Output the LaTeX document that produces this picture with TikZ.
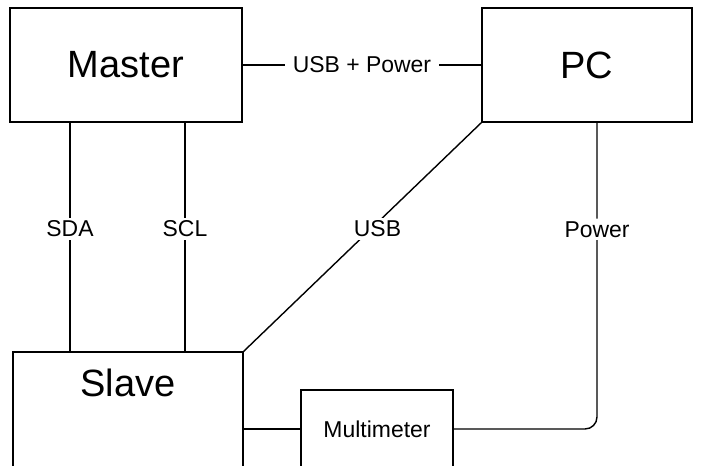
\documentclass[tikz,border=0pt]{standalone}
\usepackage{fontspec}
\setmainfont{Liberation Sans}
\begin{document}
\begin{tikzpicture}[x=0.75pt,y=-0.75pt,
  line width=1.05pt,
  block/.style={draw, rectangle, inner sep=0pt, font=\fontsize{28.5}{34}\selectfont},
  small/.style={draw, rectangle, inner sep=0pt, font=\fontsize{17.2}{20}\selectfont},
  tag/.style={fill=white, inner xsep=6pt, inner ysep=2pt, font=\fontsize{17.2}{20}\selectfont}]
  \clip (0,0) rectangle (702,465);
  \fill[white] (0,0) rectangle (702,465);

  % units
  \node[block, minimum width=174pt, minimum height=85.5pt] (master) at (126,65) {Master};
  \node[block, minimum width=157.5pt, minimum height=85.5pt] (pc) at (587,65) {PC};
  \node[block, minimum width=172.5pt, minimum height=115.5pt,
        label={[font=\fontsize{28.5}{34}\selectfont, yshift=34.5pt]center:Slave}] (slave) at (128,429) {};
  \node[small, minimum width=114pt, minimum height=58.5pt] (multi) at (377,429) {Multimeter};

  % bus positions
  \coordinate (sdax) at (70,0);
  \coordinate (sclx) at (185,0);
  \coordinate (powx) at (597,0);

  % links
  \draw (master.east) -- node[tag] {USB + Power} (pc.west);
  \draw (master.south -| sdax) -- node[tag, pos=0.465] {SDA} (slave.north -| sdax);
  \draw (master.south -| sclx) -- node[tag, pos=0.465] {SCL} (slave.north -| sclx);
  \draw (pc.south west) -- node[tag, pos=0.465, xshift=5pt] {USB} (slave.north east);
  \draw[rounded corners=9pt] (pc.south -| powx) |- node[tag, pos=0.174] {Power} (multi.east);
  \draw (slave.east) -- (multi.west);
\end{tikzpicture}
\end{document}
